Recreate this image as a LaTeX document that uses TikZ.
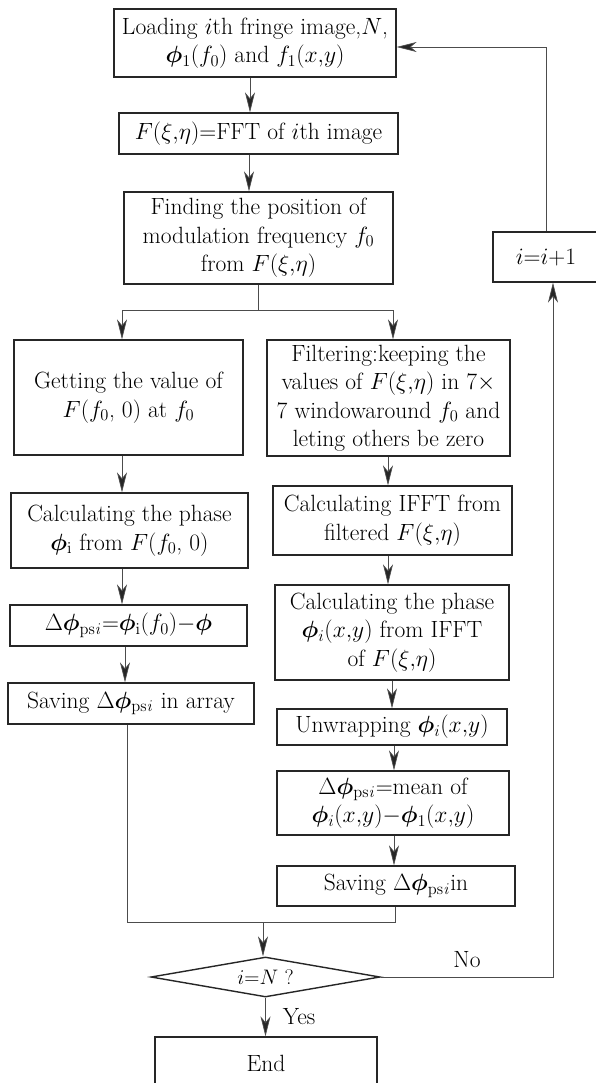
\RequirePackage{fix-cm}
\documentclass[tikz,border=0pt]{standalone}
\usepackage{amsmath,bm}
\usetikzlibrary{shapes.geometric,arrows.meta}
\newcommand\fs{\fontsize{23.5}{28.5}\selectfont}
\newcommand\fsd{\fontsize{21}{26}\selectfont}
\newcommand\ph{\bm{\phi}}
\newcommand\psub{_{\mathrm{ps}\mathit{i}}}
\newcommand\Fxe{F(\xi{,}\eta)}
\newcommand\xy{(x{,}y)}
\begin{document}
\begin{tikzpicture}[x=1pt,y=-1pt,
  box/.style={draw=black!85,line width=1.3pt,align=center,inner sep=0pt,font=\fs},
  arr/.style={draw=black!70,line width=0.7pt,-{Stealth[length=20pt,width=10pt,inset=6pt,fill=black!85]}},
  ln/.style={draw=black!70,line width=0.7pt},
  lbl/.style={font=\fs,inner sep=0pt}]
\useasboundingbox (0,0) rectangle (596,1083);
\fill[white] (0,0) rectangle (596,1083);
% main column
\node[box,minimum width=282pt,minimum height=68pt] (b1) at (255,43)
  {Loading $i$th fringe image,$N$,\\ $\ph_1(f_0)$ and $f_1\xy$};
\node[box,minimum width=279pt,minimum height=41pt] (b2) at (258.5,133.5)
  {$\Fxe$=FFT of $i$th image};
\node[box,minimum width=269pt,minimum height=92pt] (b3) at (258.5,238)
  {Finding the position of\\ modulation frequency $f_0$\\ from $\Fxe$};
% left column
\node[box,minimum width=229pt,minimum height=115pt] (a) at (128.5,397.5)
  {Getting the value of\\ $F(f_0$, 0) at $f_0$};
\node[box,minimum width=237pt,minimum height=75pt] (c) at (129.5,530.5)
  {Calculating the phase\\ $\ph_{\mathrm{i}}$ from $F(f_0$, 0)};
\node[box,minimum width=237pt,minimum height=41pt] (e) at (128.5,625.5)
  {$\Delta\ph\psub$=$\ph_{\mathrm{i}}(f_0)$$-$$\ph$};
\node[box,minimum width=246pt,minimum height=41pt] (g) at (131,703.5)
  {Saving $\Delta\ph\psub$ in array};
% right column
\node[box,minimum width=243pt,minimum height=116pt] (b) at (388.5,398)
  {Filtering:keeping the\\ values of $\Fxe$ in 7$\times$\\ 7 windowaround $f_0$ and\\ leting others be zero};
\node[box,minimum width=239pt,minimum height=69pt] (dd) at (392.5,520.5)
  {Calculating IFFT from\\ filtered $\Fxe$};
\node[box,minimum width=234pt,minimum height=95pt] (f) at (392,632.5)
  {Calculating the phase\\ $\ph_i\xy$ from IFFT\\ of $\Fxe$};
\node[box,minimum width=230pt,minimum height=36pt] (h) at (392,727)
  {Unwrapping $\ph_i\xy$};
\node[box,minimum width=232pt,minimum height=64pt] (ii) at (393,803)
  {$\Delta\ph\psub$=mean of\\ $\ph_i\xy$$-$$\ph_1\xy$};
\node[box,minimum width=238pt,minimum height=40pt] (j) at (396,886)
  {Saving $\Delta\ph\psub$in};
% decision, end, loop box
\node[draw=black!85,line width=1.4pt,diamond,aspect=5.7,minimum width=229pt,minimum height=40pt,inner sep=0pt,font=\fsd] (d) at (265.5,977) {$i$=$N$ ?};
\node[box,minimum width=222pt,minimum height=52pt] (en) at (266,1063) {End};
\node[box,minimum width=106pt,minimum height=50pt] (k) at (546,257) {$i$=$i$+1};
\node[lbl] (no) at (467,960) {No};
\node[lbl] (yes) at (299,1017) {Yes};
% coordinates
\coordinate (x1) at (250,0);
\coordinate (x2) at (249,0);
\coordinate (br) at (258,310);
\coordinate (brL) at (122,310);
\coordinate (brR) at (393,310);
\coordinate (xl1) at (122,0);
\coordinate (xl2) at (125,0);
\coordinate (ml) at (127,922);
\coordinate (mr) at (395,922);
\coordinate (mc) at (263,922);
\coordinate (xr1) at (388,0);
\coordinate (xr2) at (392,0);
\coordinate (xr3) at (394,0);
\coordinate (nr) at (553,977);
\coordinate (tr) at (546,47);
% connectors
\draw[arr] (b1.south -| x1) -- (b2.north -| x1);
\draw[arr] (b2.south -| x2) -- (b3.north -| x2);
\draw[ln] (b3.south -| br) -- (br);
\draw[ln] (brL) -- (brR);
\draw[arr] (brL) -- (brL |- a.north);
\draw[arr] (brR) -- (brR |- b.north);
\draw[arr] (a.south -| xl1) -- (c.north -| xl1);
\draw[arr] (c.south -| xl1) -- (e.north -| xl1);
\draw[arr] (e.south -| xl2) -- (g.north -| xl2);
\draw[arr] (b.south -| xr1) -- (dd.north -| xr1);
\draw[arr] (dd.south -| xr1) -- (f.north -| xr1);
\draw[arr] (f.south -| xr2) -- (h.north -| xr2);
\draw[arr] (h.south -| xr3) -- (ii.north -| xr3);
\draw[arr] (ii.south -| xr3) -- (j.north -| xr3);
\draw[ln] (g.south -| ml) -- (ml) -- (mr) -- (j.south -| mr);
\draw[arr] (mc) -- (mc |- d.north);
\draw[arr] (d.south) -- (d.south |- en.north);
\draw[arr] (d.east) -- (nr) -- (nr |- k.south);
\draw[arr] (k.north -| tr) -- (tr) -- (tr -| b1.east);
\end{tikzpicture}
\end{document}
